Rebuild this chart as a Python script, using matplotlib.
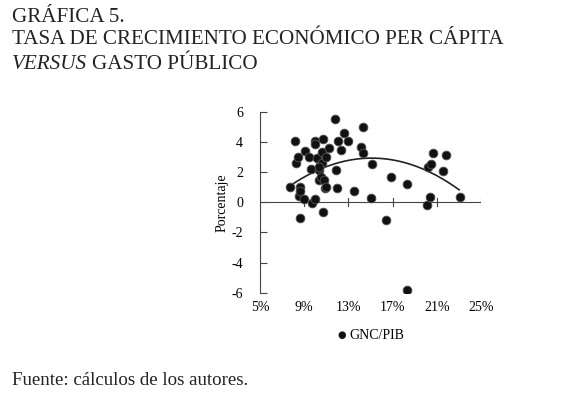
import numpy as np
import matplotlib.pyplot as plt

# gasto publico (GNC/PIB, %) vs crecimiento per capita (%)
gasto = [7.7, 8.2, 8.3, 8.4, 8.5, 8.6, 8.6, 8.6, 9.0, 9.1, 9.4, 9.6, 9.7, 10.0,
         10.0, 10.0, 10.2, 10.3, 10.3, 10.4, 10.5, 10.6, 10.6, 10.7, 10.7, 10.8,
         10.9, 11.0, 11.0, 11.2, 11.8, 11.9, 12.0, 12.1, 12.3, 12.6, 13.0, 13.5,
         14.1, 14.3, 14.3, 15.1, 15.0, 16.4, 16.8, 18.3, 18.3, 20.1, 20.2, 20.4,
         20.5, 20.6, 21.5, 21.8, 23.1, 10.3]
crecimiento = [1.04, 4.08, 2.58, 2.98, 0.42, 1.04, 0.77, -1.02, 0.22, 3.40, 3.02,
               2.19, -0.02, 0.22, 4.08, 3.84, 2.91, 2.14, 1.48, 2.47, 1.70, 2.58,
               3.36, 4.19, -0.66, 1.48, 0.93, 3.02, 1.04, 3.62, 5.52, 2.14, 0.97,
               4.08, 3.47, 4.57, 4.08, 0.75, 3.69, 4.97, 3.29, 2.52, 0.26, -1.17,
               1.66, 1.21, -5.81, -0.18, 2.32, 0.33, 2.54, 3.25, 2.05, 3.13, 0.33,
               2.36]
# tendencia polinomica (orden 2)
tendencia = [-0.0337, 1.018, -4.764]
tend_rango = [7.8, 23.0]
xticks = [5, 9, 13, 17, 21, 25]
yticks = [-6, -4, -2, 0, 2, 4, 6]

plt.rcParams['font.family'] = ['Liberation Serif', 'DejaVu Serif']

fig = plt.figure(figsize=(5.75, 3.99), dpi=100)
ax = fig.add_axes([0.452, 0.2664, 0.385, 0.4536])

ax.scatter(gasto, crecimiento, s=40, color='#111111', edgecolors='#555555',
           linewidths=0.6, zorder=3)

xs = np.linspace(tend_rango[0], tend_rango[1], 200)
ax.plot(xs, np.polyval(tendencia, xs), color='#222222', lw=1.2, zorder=2)

ax.set_xlim(5, 25)
ax.set_ylim(-6, 6)
for s in ['top', 'right', 'bottom']:
    ax.spines[s].set_visible(False)
ax.spines['left'].set_color('#444444')
ax.spines['left'].set_linewidth(0.8)
ax.axhline(0, color='#444444', lw=0.8, zorder=1)
for t in xticks[1:]:
    ax.plot([t, t], [-0.25, 0.25], color='#444444', lw=0.8, zorder=1)

ax.set_yticks(yticks)
ax.set_yticklabels([str(v) for v in yticks], fontsize=10)
ax.tick_params(axis='y', direction='in', length=5, color='#444444', pad=12)
ax.set_xticks(xticks)
ax.set_xticklabels(['%d%%' % v for v in xticks], fontsize=10)
ax.tick_params(axis='x', length=0, pad=6)
ax.set_ylabel('Porcentaje', fontsize=10, labelpad=2)

fig.text(0.595, 0.16, '\u25CF', fontsize=7, ha='center', va='center',
         family='DejaVu Sans', color='#111111')
fig.text(0.608, 0.16, 'GNC/PIB', fontsize=10, ha='left', va='center')

fs = 15.2
fig.text(0.021, 0.945, 'GRÁFICA 5.', fontsize=fs, ha='left', va='baseline',
         color='#222222')
fig.text(0.021, 0.89, 'TASA DE CRECIMIENTO ECONÓMICO PER CÁPITA', fontsize=fs,
         ha='left', va='baseline', color='#222222')
t1 = fig.text(0.021, 0.827, 'VERSUS', fontsize=fs, style='italic',
              ha='left', va='baseline', color='#222222')
fig.canvas.draw()
bb = t1.get_window_extent()
fig.text((bb.x1 + 5) / fig.bbox.width, 0.827, 'GASTO PÚBLICO', fontsize=fs,
         ha='left', va='baseline', color='#222222')

fig.text(0.021, 0.035, 'Fuente: cálculos de los autores.', fontsize=13.6,
         ha='left', va='baseline', color='#222222')

fig.savefig('out.png', dpi=100)
